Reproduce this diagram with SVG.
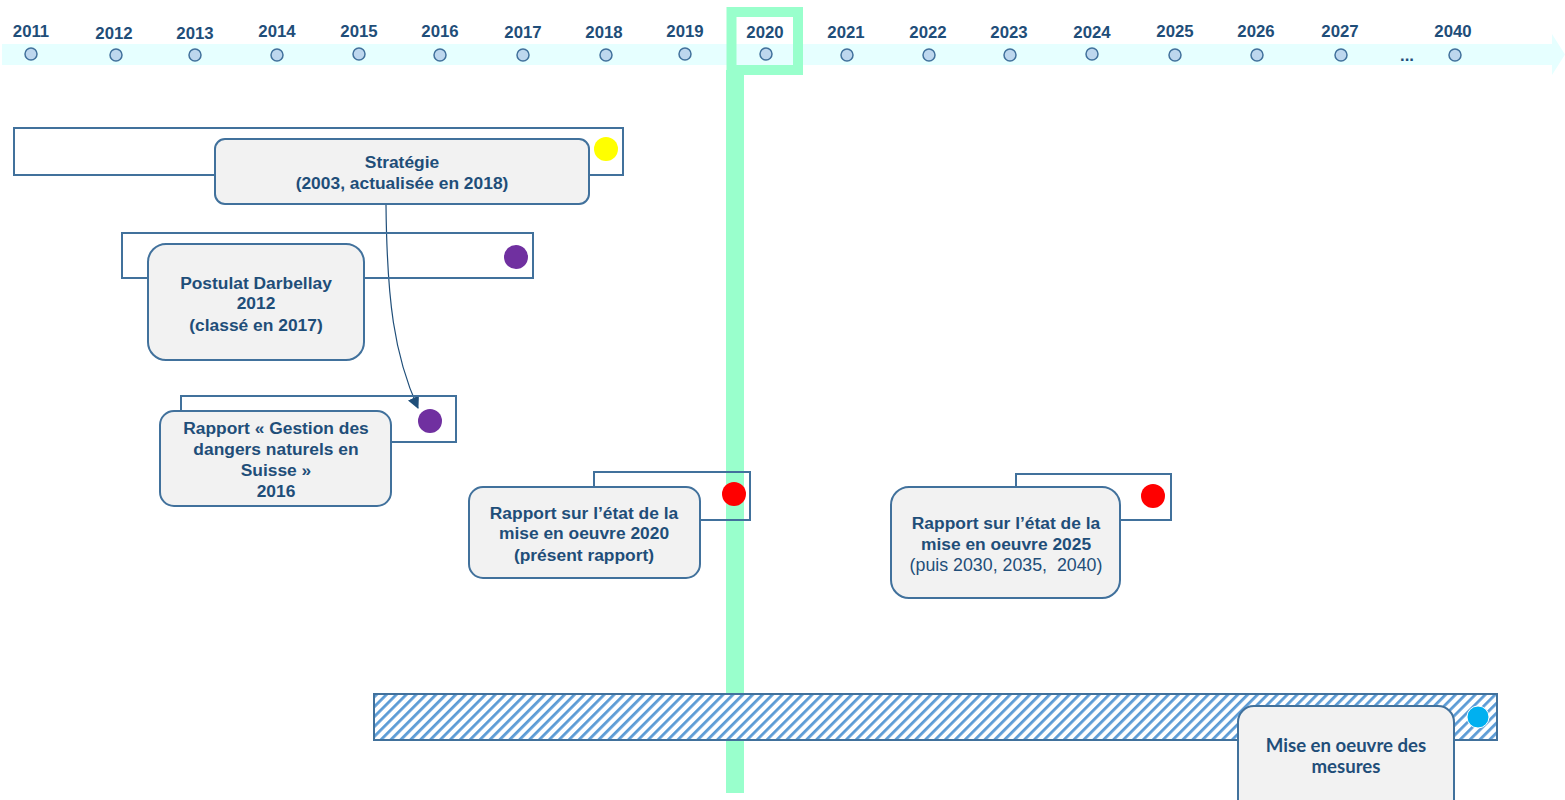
<svg xmlns="http://www.w3.org/2000/svg" width="1565" height="800" viewBox="0 0 1565 800">
<style>
.yr{font-family:"Liberation Sans",Arial,sans-serif;font-weight:bold;font-size:16.8px;fill:#1F4E79;text-anchor:middle}
.dot{fill:#BDD7EE;stroke:#41719C;stroke-width:1.5}
.frame{fill:none;stroke:#41719C;stroke-width:2}
.box{fill:#F2F2F2;stroke:#41719C;stroke-width:2}
.t{font-family:"Liberation Sans",Arial,sans-serif;font-weight:bold;font-size:17.4px;fill:#1F4E79;text-anchor:middle}
.tn{font-weight:normal;font-size:17.8px}
.t2{font-family:Lato,"Liberation Sans",sans-serif;font-weight:bold;font-size:18.6px;fill:#1F4E79;text-anchor:middle}
</style>
<defs>
<pattern id="hatch" patternUnits="userSpaceOnUse" width="7" height="7" patternTransform="rotate(45)">
<rect width="7" height="7" fill="#fff"/>
<rect x="0" y="0" width="2.8" height="7" fill="#5B9BD5"/>
</pattern>
<marker id="ah" markerWidth="12" markerHeight="12" refX="11" refY="6" orient="auto" markerUnits="userSpaceOnUse">
<path d="M0,0 L12,6 L0,12 z" fill="#1F4E79"/>
</marker>
</defs>

<g id="timeline">
<path d="M2,44 H1552 V34 L1565,54.5 L1552,75 V65 H2 z" fill="#E6FFFF"/>
<g>
<text class="yr" x="31" y="37">2011</text><circle class="dot" cx="31" cy="54" r="6"/>
<text class="yr" x="114" y="39">2012</text><circle class="dot" cx="116" cy="55" r="6"/>
<text class="yr" x="195" y="39">2013</text><circle class="dot" cx="195" cy="55" r="6"/>
<text class="yr" x="277" y="37">2014</text><circle class="dot" cx="277" cy="55" r="6"/>
<text class="yr" x="359" y="37">2015</text><circle class="dot" cx="359" cy="54" r="6"/>
<text class="yr" x="440" y="37">2016</text><circle class="dot" cx="440" cy="55" r="6"/>
<text class="yr" x="523" y="38">2017</text><circle class="dot" cx="523" cy="55" r="6"/>
<text class="yr" x="604" y="38">2018</text><circle class="dot" cx="606" cy="55" r="6"/>
<text class="yr" x="685" y="37">2019</text><circle class="dot" cx="685" cy="54" r="6"/>
<text class="yr" x="765" y="38">2020</text><circle class="dot" cx="766" cy="54" r="6"/>
<text class="yr" x="846" y="38">2021</text><circle class="dot" cx="847" cy="55" r="6"/>
<text class="yr" x="928" y="38">2022</text><circle class="dot" cx="929" cy="55" r="6"/>
<text class="yr" x="1009" y="38">2023</text><circle class="dot" cx="1010" cy="55" r="6"/>
<text class="yr" x="1092" y="38">2024</text><circle class="dot" cx="1092" cy="54" r="6"/>
<text class="yr" x="1175" y="37">2025</text><circle class="dot" cx="1175" cy="55" r="6"/>
<text class="yr" x="1256" y="37">2026</text><circle class="dot" cx="1257" cy="55" r="6"/>
<text class="yr" x="1340" y="37">2027</text><circle class="dot" cx="1341" cy="55" r="6"/>
<text class="yr" x="1407" y="61">...</text>
<text class="yr" x="1453" y="37">2040</text><circle class="dot" cx="1455" cy="55" r="6"/>
</g>
</g>

<g id="now-2020">
<rect x="731.5" y="12" width="66.5" height="58" fill="none" stroke="#99FFCC" stroke-width="10"/>
<rect x="726" y="70" width="18" height="723" fill="#99FFCC"/>
</g>

<g id="connectors">
<path d="M386,205 C387,300 394,355 418,408" fill="none" stroke="#1F4E79" stroke-width="1.2" marker-end="url(#ah)"/>
</g>

<g id="strategie">
<rect class="frame" x="14" y="128" width="609" height="47"/>
<circle cx="606" cy="149" r="12" fill="#FFFF00"/>
<rect class="box" x="215" y="139" width="374" height="65" rx="10"/>
<text class="t" x="402" y="168">Stratégie</text>
<text class="t" x="402" y="189">(2003, actualisée en 2018)</text>
</g>

<g id="postulat">
<rect class="frame" x="122" y="233" width="411" height="45"/>
<circle cx="516" cy="257" r="12" fill="#7030A0"/>
<rect class="box" x="148" y="244" width="216" height="116" rx="18"/>
<text class="t" x="256" y="289">Postulat Darbellay</text>
<text class="t" x="256" y="309">2012</text>
<text class="t" x="256" y="331">(classé en 2017)</text>
</g>

<g id="rapport-2016">
<rect class="frame" x="181" y="396" width="275" height="46"/>
<circle cx="430" cy="421" r="12" fill="#7030A0"/>
<rect class="box" x="160" y="411" width="231" height="95" rx="14"/>
<text class="t" x="276" y="434">Rapport « Gestion des</text>
<text class="t" x="276" y="455">dangers naturels en</text>
<text class="t" x="276" y="476">Suisse »</text>
<text class="t" x="276" y="497">2016</text>
</g>

<g id="rapport-2020">
<rect class="frame" x="594" y="472" width="156" height="48"/>
<circle cx="734" cy="494" r="12" fill="#FF0000"/>
<rect class="box" x="469" y="487" width="231" height="91" rx="14"/>
<text class="t" x="584" y="519">Rapport sur l’état de la</text>
<text class="t" x="584" y="539">mise en oeuvre 2020</text>
<text class="t" x="584" y="561">(présent rapport)</text>
</g>

<g id="rapport-2025">
<rect class="frame" x="1016" y="474" width="155" height="46"/>
<circle cx="1153" cy="496" r="12" fill="#FF0000"/>
<rect class="box" x="891" y="487" width="229" height="111" rx="18"/>
<text class="t" x="1006" y="529">Rapport sur l’état de la</text>
<text class="t" x="1006" y="550">mise en oeuvre 2025</text>
<text class="t tn" x="1006" y="571" xml:space="preserve">(puis 2030, 2035,  2040)</text>
</g>

<g id="mise-en-oeuvre">
<rect x="374" y="694" width="1123" height="46" fill="url(#hatch)" stroke="#41719C" stroke-width="2"/>
<circle cx="1478" cy="717" r="11" fill="#00B0F0" stroke="#fff" stroke-width="1"/>
<rect class="box" x="1238" y="706" width="216" height="110" rx="16"/>
<text class="t2" x="1346" y="752">Mise en oeuvre des</text>
<text class="t2" x="1346" y="773">mesures</text>
</g>
</svg>
